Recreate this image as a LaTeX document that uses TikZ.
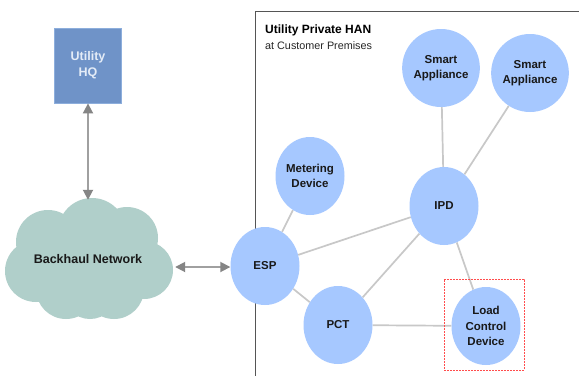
\documentclass[tikz,border=0pt]{standalone}
\usepackage{fontspec}
\setmainfont{Liberation Sans}
\usetikzlibrary{arrows.meta,shapes.geometric,backgrounds}
\definecolor{hqfill}{HTML}{6F93C8}
\definecolor{hqborder}{HTML}{8DAEDC}
\definecolor{hqtext}{HTML}{E4ECF7}
\definecolor{cloudfill}{HTML}{B0CFCA}
\definecolor{devfill}{HTML}{A6C8FF}
\definecolor{linkgray}{HTML}{C8C8C8}
\definecolor{arrgray}{HTML}{A0A0A0}
\definecolor{headgray}{HTML}{858585}
\definecolor{framegray}{HTML}{555555}
\definecolor{redbox}{HTML}{FF4D4D}
\begin{document}
\begin{tikzpicture}[x=1pt,y=-1pt,
  device/.style={ellipse,fill=devfill,minimum width=69pt,minimum height=78pt,inner sep=0pt,
    align=center,font=\fontsize{11.5}{14.5}\selectfont\bfseries,text=black!90},
  link/.style={draw=linkgray,line width=1.7pt},
  twoway/.style={draw=arrgray,line width=1.8pt,{Triangle[length=10pt,width=10pt,color=headgray]}-{Triangle[length=10pt,width=10pt,color=headgray]}},
  puff/.style={fill=cloudfill,draw=none}]
\useasboundingbox (0,0) rectangle (579,376);
\begin{pgfonlayer}{background}
\fill[white] (0,0) rectangle (579,376);
\end{pgfonlayer}
% frame
\draw[framegray,line width=1pt] (579,11) -- (255,11) -- (255,376);
\node[anchor=west,font=\fontsize{12}{14}\selectfont\bfseries,inner sep=0pt] (title) at (265,30) {Utility Private HAN};
\node[anchor=west,font=\fontsize{10.8}{13}\selectfont,text=black!85,inner sep=0pt] (subtitle) at (265,46) {at Customer Premises};
% HQ
\node[draw=hqborder,fill=hqfill,line width=0.8pt,minimum width=67pt,minimum height=75pt,inner sep=0pt,
  align=center,font=\fontsize{12.5}{16}\selectfont\bfseries,text=hqtext] (hq) at (88,65.5) {Utility\\HQ};
% cloud
\foreach \cx/\cy/\r in {48/242/32, 92/232/34, 127/238/31, 144/270/29, 36/271/31, 66/289/30, 114/289/30, 90/292/27}
  \fill[puff] (\cx,\cy) circle[radius=\r];
\fill[puff] (90,262) ellipse[x radius=62,y radius=40];
\node[minimum width=170pt,minimum height=118pt,inner sep=0pt,font=\fontsize{12.5}{15}\selectfont\bfseries,text=black!90] (cloud) at (88,259) {Backhaul Network};
% devices
\node[device] (sa1) at (441,68) {Smart\\Appliance};
\node[device] (sa2) at (530,73) {Smart\\Appliance};
\node[device] (meter) at (310,176) {Metering\\Device};
\node[device] (ipd) at (444,206) {IPD};
\node[device] (esp) at (265,266) {ESP};
\node[device] (pct) at (338,325) {PCT};
\node[device,font=\fontsize{11.5}{15.5}\selectfont\bfseries] (lcd) at (486,326) {Load\\Control\\Device};
% red dashed box
\node[draw=redbox,dash pattern=on 2pt off 1pt,line width=1pt,minimum width=80pt,minimum height=91pt,inner sep=0pt] (lcdbox) at (484,324.5) {};
% links
\begin{pgfonlayer}{background}
\draw[link] (sa1) -- (ipd);
\draw[link] (sa2) -- (ipd);
\draw[link] (meter) -- (esp);
\draw[link] (esp) -- (ipd);
\draw[link] (esp) -- (pct);
\draw[link] (pct) -- (ipd);
\draw[link] (pct) -- (lcd);
\draw[link] (ipd) -- (lcd);
\end{pgfonlayer}
\draw[twoway] (hq.south) -- (cloud.north);
\path (cloud.east) ++(2,8) coordinate (ce);
\draw[twoway] (ce) -- (esp.west |- ce);
\end{tikzpicture}
\end{document}
